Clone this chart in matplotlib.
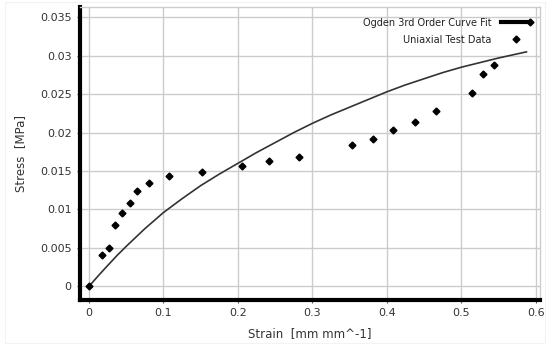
import matplotlib

matplotlib.use("Agg")
import matplotlib.pyplot as plt
from matplotlib.legend_handler import HandlerLine2D
from matplotlib.lines import Line2D
from matplotlib.patches import Rectangle

# Uniaxial tension test data.
test_strain = [0, 0.0179, 0.0269, 0.0354, 0.0445, 0.0546, 0.0638, 0.0812,
               0.1079, 0.1522, 0.2049, 0.2415, 0.2819, 0.3537, 0.3818,
               0.4084, 0.4376, 0.4657, 0.5141, 0.5289, 0.5436]
test_stress = [0, 0.00411, 0.00501, 0.00798, 0.00956, 0.01084, 0.01244,
               0.01343, 0.01430, 0.01487, 0.01569, 0.01629, 0.01687,
               0.01843, 0.01917, 0.02032, 0.02142, 0.02286, 0.02516,
               0.02760, 0.02873]

# Ogden 3rd order fitted curve.
fit_strain = [0, 0.0125, 0.025, 0.0375, 0.05, 0.075, 0.1, 0.125, 0.15,
              0.175, 0.2, 0.225, 0.25, 0.275, 0.3, 0.325, 0.35, 0.375, 0.4,
              0.425, 0.45, 0.475, 0.5, 0.525, 0.55, 0.5876]
fit_stress = [0, 0.00138, 0.0027, 0.0040, 0.0052, 0.0075, 0.0096, 0.0114,
              0.0131, 0.0146, 0.0160, 0.0174, 0.0187, 0.0200, 0.0212,
              0.0223, 0.0233, 0.0243, 0.0253, 0.0262, 0.0270, 0.0278,
              0.0285, 0.0291, 0.0297, 0.0305]

x_ticks = [0, 0.1, 0.2, 0.3, 0.4, 0.5, 0.6]
x_tick_labels = ["0", "0.1", "0.2", "0.3", "0.4", "0.5", "0.6"]
y_ticks = [0, 0.005, 0.01, 0.015, 0.02, 0.025, 0.03, 0.035]
y_tick_labels = ["0", "0.005", "0.01", "0.015", "0.02", "0.025", "0.03",
                 "0.035"]


class EndMarkerHandler(HandlerLine2D):
    """Legend line with its marker at the right end instead of the middle."""

    def create_artists(self, legend, orig_handle, xdescent, ydescent, width,
                       height, fontsize, trans):
        artists = super().create_artists(legend, orig_handle, xdescent,
                                         ydescent, width, height, fontsize,
                                         trans)
        artists[0].set_markevery([2])
        return artists


def main() -> None:
    fig = plt.figure(figsize=(5.48, 3.46), dpi=100)
    ax = fig.add_axes([0.146, 0.1329, 0.8394, 0.8483])

    # faint frame around the whole figure
    fig.patches.append(Rectangle((0.009, 0.009), 0.985, 0.985,
                                 transform=fig.transFigure, fill=False,
                                 edgecolor="#f3f3f3", linewidth=0.8))

    ax.plot(fit_strain, fit_stress, color="#333333", linewidth=1.2, zorder=3)
    ax.plot(test_strain, test_stress, linestyle="none", marker="D",
            markersize=3.5, color="black", zorder=4)

    ax.set_xlim(-0.0121, 0.6058)
    ax.set_ylim(-0.00178, 0.0364)
    ax.set_xticks(x_ticks, x_tick_labels)
    ax.set_yticks(y_ticks, y_tick_labels)
    ax.tick_params(labelsize=8, labelcolor="#333333", color="#555555",
                   length=2.5, width=0.8)
    ax.grid(True, color="#cccccc", linewidth=1.0)
    ax.set_axisbelow(True)

    for side in ("left", "bottom"):
        ax.spines[side].set_linewidth(3)
        ax.spines[side].set_color("black")
    for side in ("top", "right"):
        ax.spines[side].set_linewidth(1.0)
        ax.spines[side].set_color("#cccccc")

    ax.set_xlabel("Strain  [mm mm^-1]", fontsize=8.5, color="#333333",
                  labelpad=6)
    ax.set_ylabel("Stress  [MPa]", fontsize=8.5, color="#333333",
                  labelpad=9)

    fit_handle = Line2D([], [], color="black", linewidth=3, marker="D",
                        markersize=3.5)
    data_handle = Line2D([], [], linestyle="none", color="black", marker="D",
                         markersize=3.5)
    ax.legend([fit_handle, data_handle],
              ["Ogden 3rd Order Curve Fit", "Uniaxial Test Data"],
              loc="upper right", bbox_to_anchor=(0.9965, 0.992),
              frameon=False, markerfirst=False, fontsize=7,
              handlelength=2.9, handletextpad=1.0, labelspacing=0.75,
              numpoints=1, handler_map={fit_handle: EndMarkerHandler()},
              labelcolor="#222222")

    fig.savefig("out.png", dpi=100)


if __name__ == "__main__":
    main()
